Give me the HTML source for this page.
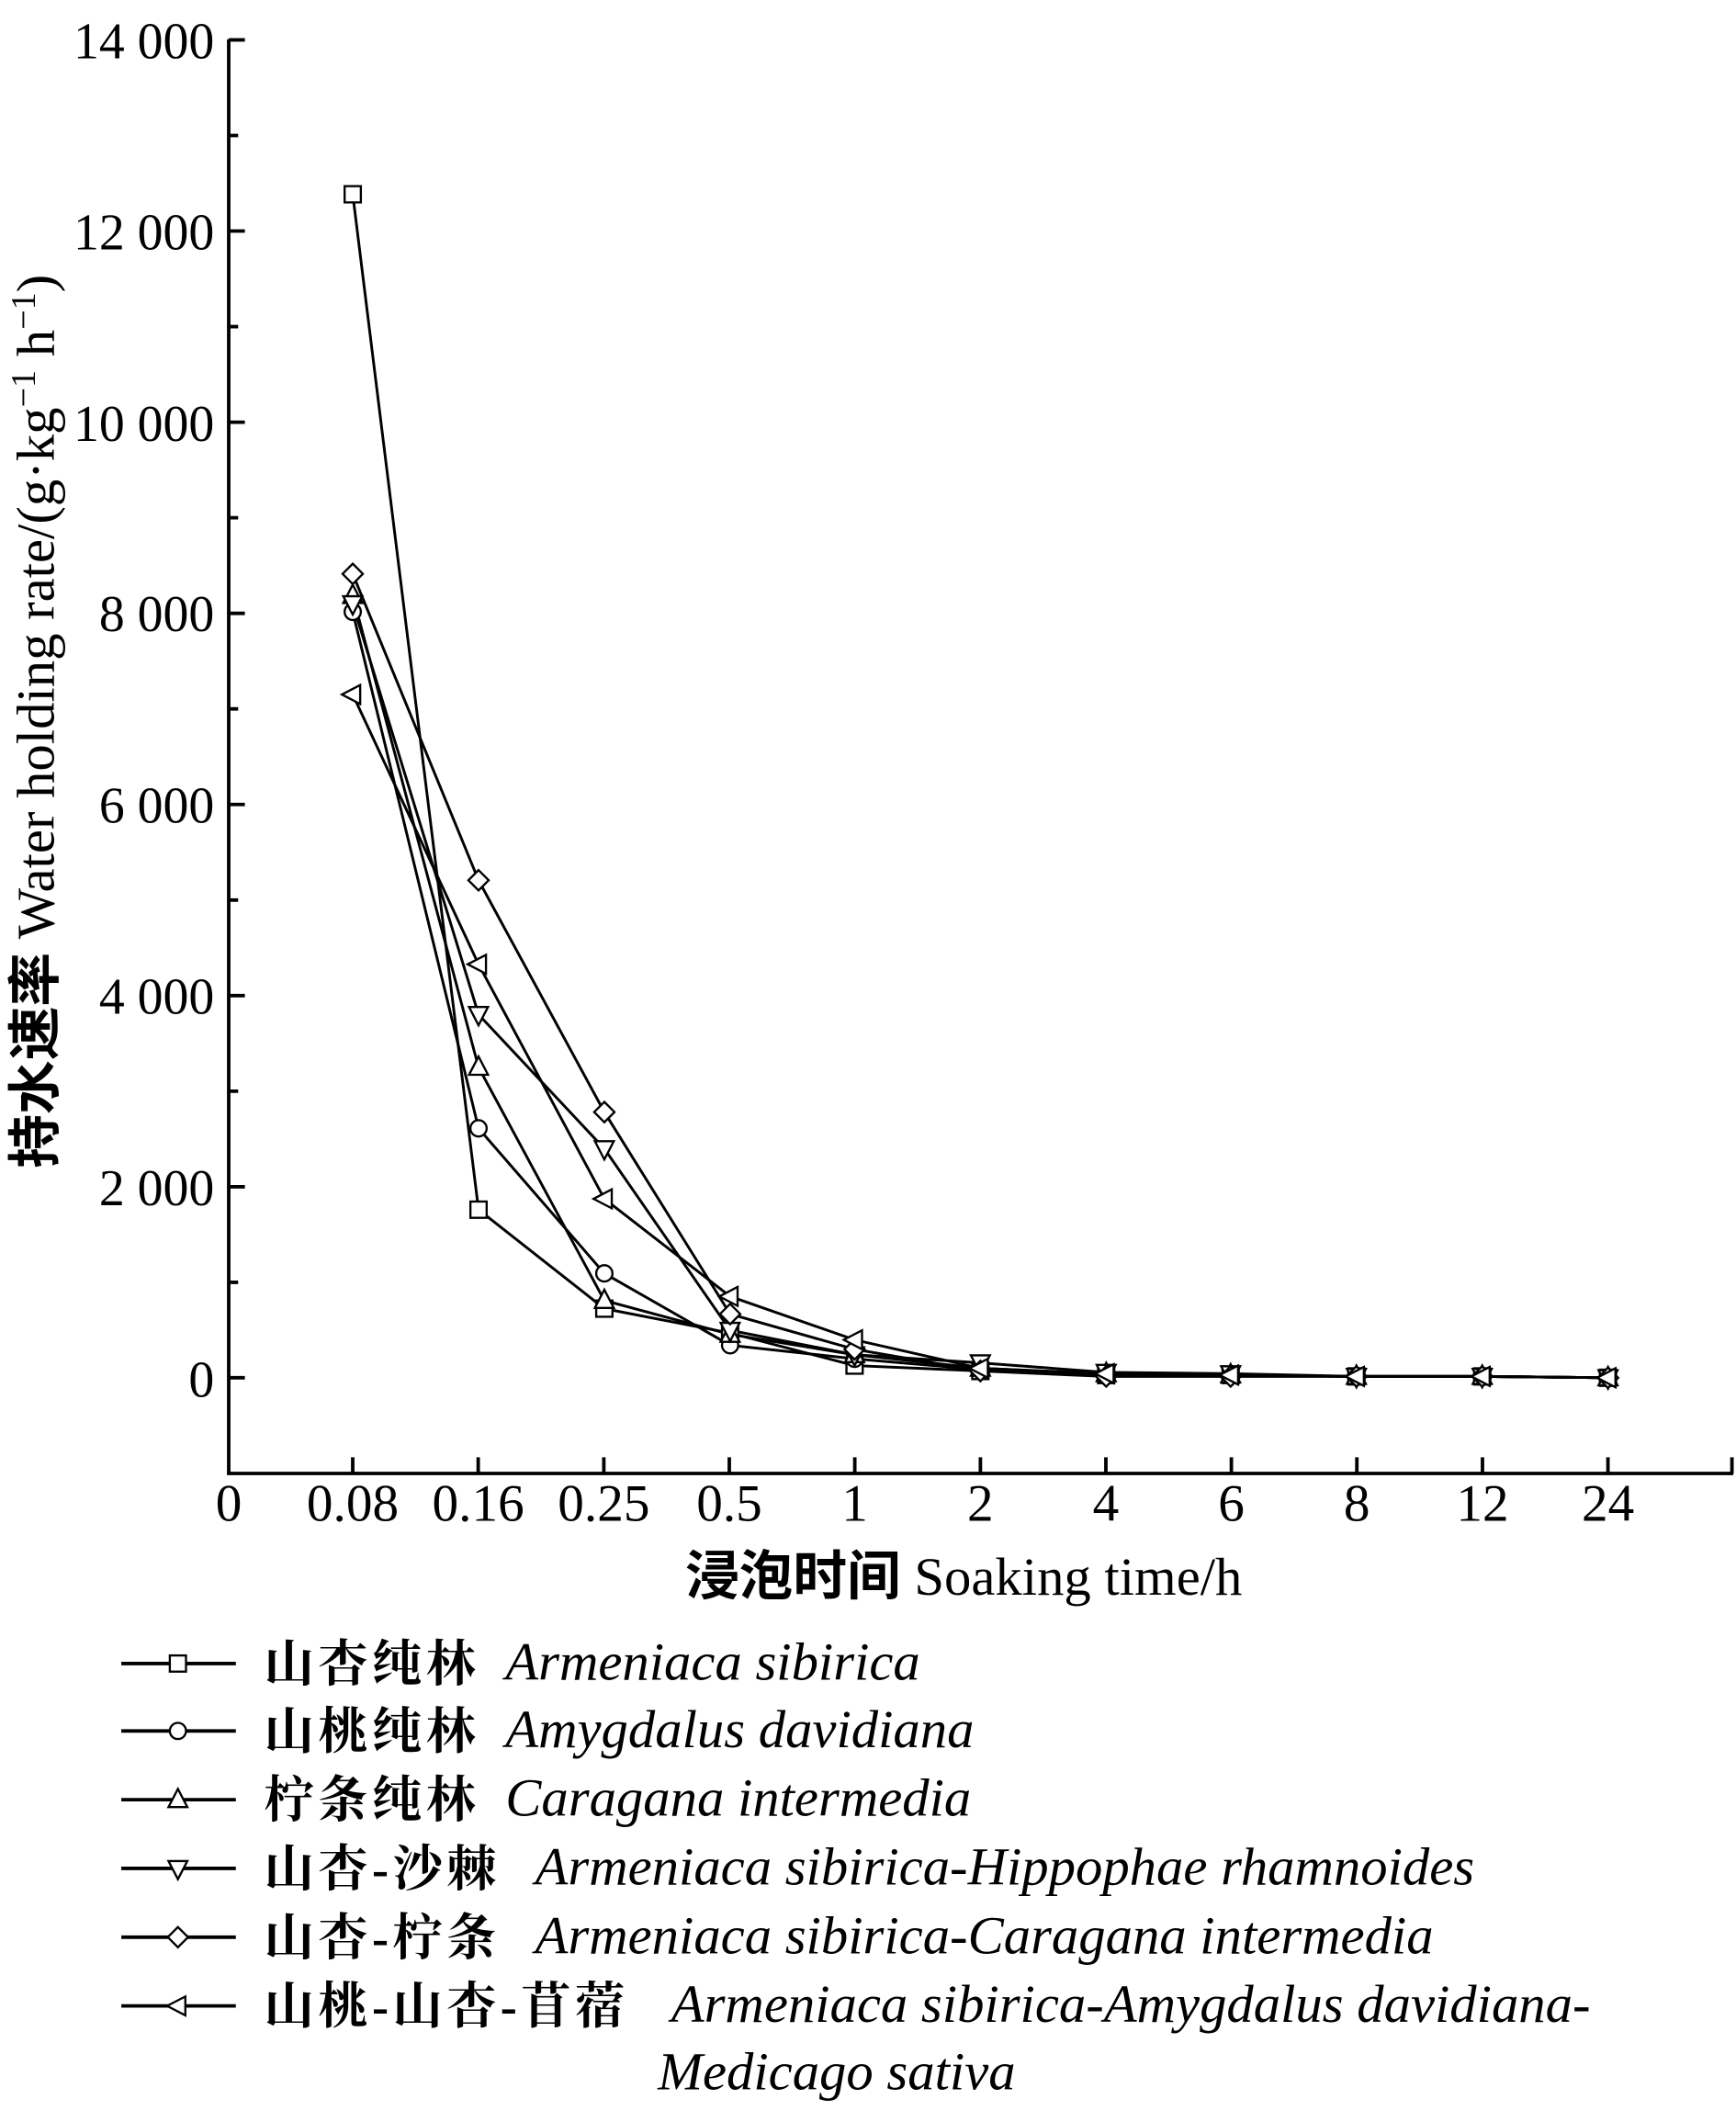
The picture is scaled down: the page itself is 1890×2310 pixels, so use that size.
<!DOCTYPE html>
<html><head><meta charset="utf-8"><style>
html,body{margin:0;padding:0;background:#fff;}
svg{display:block;}
text{font-family:"Liberation Serif","Noto Serif CJK SC",serif;fill:#000;}
.cj{font-family:"Liberation Serif","Noto Sans CJK SC",sans-serif;font-weight:bold;}
</style></head><body>
<svg width="1890" height="2310" viewBox="0 0 1288 1574" xmlns="http://www.w3.org/2000/svg">
<g stroke="#000" stroke-width="2.6" fill="none">
<line x1="169.7" y1="29" x2="169.7" y2="1093"/>
<line x1="168.4" y1="1093" x2="1286" y2="1093"/>
<line x1="1285" y1="1093" x2="1285" y2="1081"/>
<path d="M169.7 29.5h12M169.7 171.3h12M169.7 313.1h12M169.7 454.9h12M169.7 596.7h12M169.7 738.5h12M169.7 880.3h12M169.7 1022h12"/>
<path d="M169.7 100.4h7M169.7 242.2h7M169.7 384h7M169.7 525.8h7M169.7 667.6h7M169.7 809.4h7M169.7 951.2h7"/>
<path d="M261.7 1093v-12M354.8 1093v-12M448 1093v-12M541.1 1093v-12M634.2 1093v-12M727.4 1093v-12M820.5 1093v-12M913.6 1093v-12M1006.7 1093v-12M1099.9 1093v-12M1193 1093v-12"/>
</g>
<g font-size="38" text-anchor="end">
<text x="159" y="43">14 000</text><text x="159" y="185">12 000</text><text x="159" y="327">10 000</text>
<text x="159" y="468">8 000</text><text x="159" y="610">6 000</text><text x="159" y="752">4 000</text>
<text x="159" y="894">2 000</text><text x="159" y="1036">0</text>
</g>
<g font-size="39" text-anchor="middle">
<text x="169.7" y="1128">0</text><text x="261.7" y="1128">0.08</text><text x="354.8" y="1128">0.16</text>
<text x="448" y="1128">0.25</text><text x="541.1" y="1128">0.5</text><text x="634.2" y="1128">1</text>
<text x="727.4" y="1128">2</text><text x="820.5" y="1128">4</text><text x="913.6" y="1128">6</text>
<text x="1006.7" y="1128">8</text><text x="1099.9" y="1128">12</text><text x="1193" y="1128">24</text>
</g>
<text x="715" y="1183" font-size="40" text-anchor="middle"><tspan class="cj">浸泡时间</tspan>  Soaking time/h</text>
<text transform="translate(40,535) rotate(-90)" font-size="40" text-anchor="middle"><tspan class="cj">持水速率</tspan>  Water holding rate/(g·kg<tspan font-size="26" dy="-14">−1</tspan><tspan dy="14"> h</tspan><tspan font-size="26" dy="-14">−1</tspan><tspan dy="14">)</tspan></text>

<defs>
<g id="sq"><rect x="-6" y="-6" width="12" height="12" fill="#fff" stroke="#000" stroke-width="1.6"/></g>
<g id="ci"><circle r="6" fill="#fff" stroke="#000" stroke-width="1.6"/></g>
<g id="tu"><path d="M0,-8 L7,5.5 L-7,5.5Z" fill="#fff" stroke="#000" stroke-width="1.6"/></g>
<g id="td"><path d="M0,8 L7,-5.5 L-7,-5.5Z" fill="#fff" stroke="#000" stroke-width="1.6"/></g>
<g id="di"><path d="M0,-7.5 L7.5,0 L0,7.5 L-7.5,0Z" fill="#fff" stroke="#000" stroke-width="1.6"/></g>
<g id="tl"><path d="M-8,0 L5.5,-7 L5.5,7Z" fill="#fff" stroke="#000" stroke-width="1.6"/></g>
</defs>
<g transform="matrix(1.0036,0,0,1.0057,0.77,-0.8)">
<g stroke="#000" stroke-width="2" fill="none">
<polyline points="260,144 353,893 446,966 539,984 631,1008 724,1012 817,1015 909,1015 1002,1016 1095,1016 1188,1017"/>
<polyline points="260,452 353,833 446,940 539,993 631,1003 724,1011 817,1015 909,1015 1002,1016 1095,1016 1188,1017"/>
<polyline points="260,440 353,788 446,960 539,985 631,1000 724,1010 817,1014 909,1015 1002,1016 1095,1016 1188,1017"/>
<polyline points="260,446 353,749 446,848 539,982 631,1000 724,1006 817,1013 909,1014 1002,1016 1095,1016 1188,1017"/>
<polyline points="260,424 353,650 446,821 539,970 631,996 724,1012 817,1016 909,1016 1002,1016 1095,1016 1188,1017"/>
<polyline points="260,513 353,712 446,885 539,957 631,989 724,1010 817,1014 909,1015 1002,1016 1095,1016 1188,1017"/>
</g>
<use href="#sq" x="260" y="144"/><use href="#sq" x="353" y="893"/><use href="#sq" x="446" y="966"/><use href="#sq" x="539" y="984"/><use href="#sq" x="631" y="1008"/><use href="#sq" x="724" y="1012"/><use href="#sq" x="817" y="1015"/><use href="#sq" x="909" y="1015"/><use href="#sq" x="1002" y="1016"/><use href="#sq" x="1095" y="1016"/><use href="#sq" x="1188" y="1017"/>
<use href="#ci" x="260" y="452"/><use href="#ci" x="353" y="833"/><use href="#ci" x="446" y="940"/><use href="#ci" x="539" y="993"/><use href="#ci" x="631" y="1003"/><use href="#ci" x="724" y="1011"/><use href="#ci" x="817" y="1015"/><use href="#ci" x="909" y="1015"/><use href="#ci" x="1002" y="1016"/><use href="#ci" x="1095" y="1016"/><use href="#ci" x="1188" y="1017"/>
<use href="#tu" x="260" y="440"/><use href="#tu" x="353" y="788"/><use href="#tu" x="446" y="960"/><use href="#tu" x="539" y="985"/><use href="#tu" x="631" y="1000"/><use href="#tu" x="724" y="1010"/><use href="#tu" x="817" y="1014"/><use href="#tu" x="909" y="1015"/><use href="#tu" x="1002" y="1016"/><use href="#tu" x="1095" y="1016"/><use href="#tu" x="1188" y="1017"/>
<use href="#td" x="260" y="446"/><use href="#td" x="353" y="749"/><use href="#td" x="446" y="848"/><use href="#td" x="539" y="982"/><use href="#td" x="631" y="1000"/><use href="#td" x="724" y="1006"/><use href="#td" x="817" y="1013"/><use href="#td" x="909" y="1014"/><use href="#td" x="1002" y="1016"/><use href="#td" x="1095" y="1016"/><use href="#td" x="1188" y="1017"/>
<use href="#di" x="260" y="424"/><use href="#di" x="353" y="650"/><use href="#di" x="446" y="821"/><use href="#di" x="539" y="970"/><use href="#di" x="631" y="996"/><use href="#di" x="724" y="1012"/><use href="#di" x="817" y="1016"/><use href="#di" x="909" y="1016"/><use href="#di" x="1002" y="1016"/><use href="#di" x="1095" y="1016"/><use href="#di" x="1188" y="1017"/>
<use href="#tl" x="260" y="513"/><use href="#tl" x="353" y="712"/><use href="#tl" x="446" y="885"/><use href="#tl" x="539" y="957"/><use href="#tl" x="631" y="989"/><use href="#tl" x="724" y="1010"/><use href="#tl" x="817" y="1014"/><use href="#tl" x="909" y="1015"/><use href="#tl" x="1002" y="1016"/><use href="#tl" x="1095" y="1016"/><use href="#tl" x="1188" y="1017"/>
</g>
<!-- legend -->
<g stroke="#000" stroke-width="2.6">
<line x1="90" y1="1234" x2="175" y2="1234"/><line x1="90" y1="1284" x2="175" y2="1284"/>
<line x1="90" y1="1335" x2="175" y2="1335"/><line x1="90" y1="1386" x2="175" y2="1386"/>
<line x1="90" y1="1437" x2="175" y2="1437"/><line x1="90" y1="1488" x2="175" y2="1488"/>
</g>
<use href="#sq" x="132" y="1234"/><use href="#ci" x="132" y="1284"/><use href="#tu" x="132" y="1335"/>
<use href="#td" x="132" y="1386"/><use href="#di" x="132" y="1437"/><use href="#tl" x="132" y="1488"/>
<g font-size="37" class="cj" letter-spacing="3">
<text x="196" y="1247">山杏纯林</text>
<text x="196" y="1297">山桃纯林</text>
<text x="196" y="1348">柠条纯林</text>
<text x="196" y="1399">山杏-沙棘</text>
<text x="196" y="1450">山杏-柠条</text>
<text x="196" y="1501">山桃-山杏-苜蓿</text>
</g>
<g font-size="40" font-style="italic">
<text x="375" y="1246">Armeniaca sibirica</text>
<text x="375" y="1296">Amygdalus davidiana</text>
<text x="375" y="1347">Caragana  intermedia</text>
<text x="397" y="1398">Armeniaca sibirica-Hippophae rhamnoides</text>
<text x="397" y="1449">Armeniaca sibirica-Caragana  intermedia</text>
<text x="498" y="1500">Armeniaca sibirica-Amygdalus davidiana-</text>
<text x="488" y="1550">Medicago sativa</text>
</g>
</svg>
</body></html>
